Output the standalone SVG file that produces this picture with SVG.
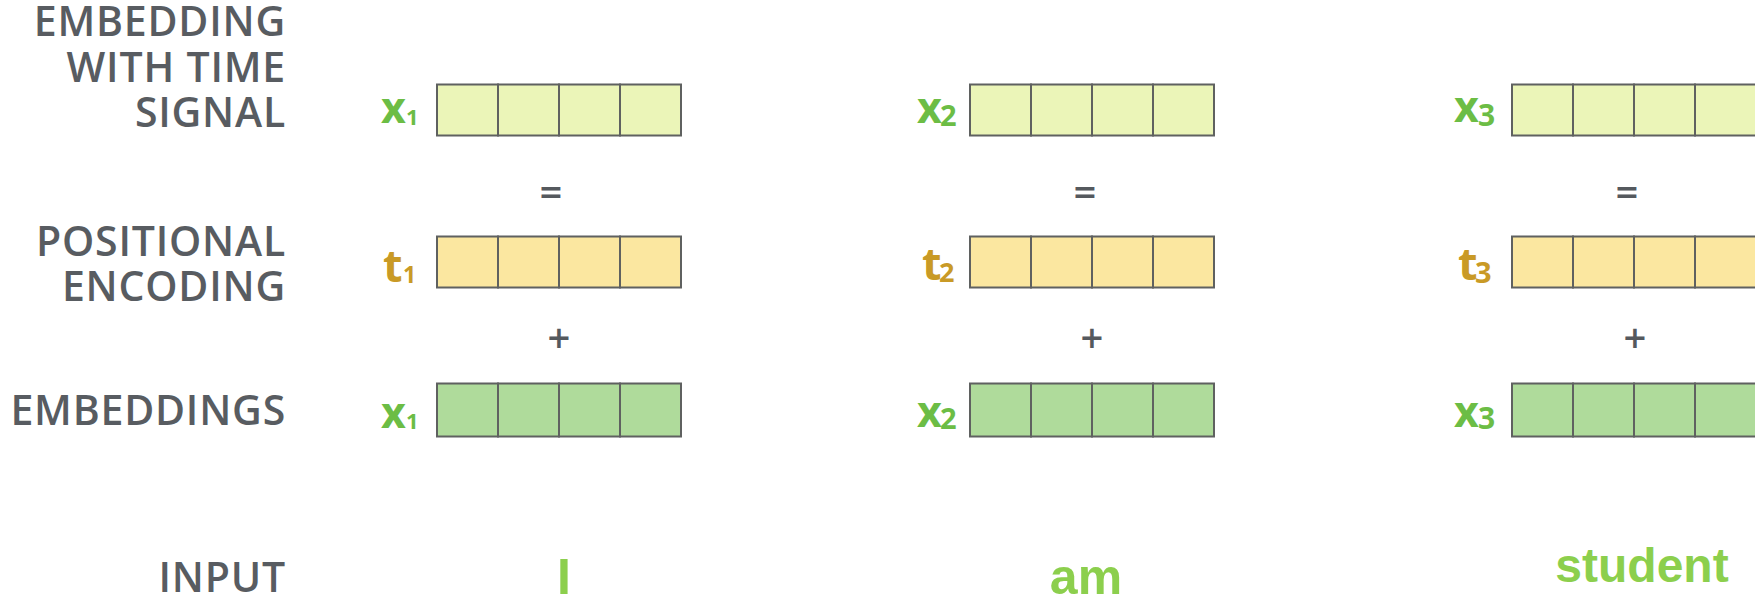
<svg xmlns="http://www.w3.org/2000/svg" width="1755" height="601" viewBox="0 0 1755 601">
<defs>
<style>
.lbl{font-family:"Open Sans","Noto Sans",sans-serif;font-weight:600;font-size:41px;letter-spacing:0.8px;fill:#585c61;text-anchor:end}
.op{font-family:"Open Sans","Noto Sans",sans-serif;font-weight:600;font-size:40px;fill:#55595e;text-anchor:middle}
.xl{font-family:"Open Sans","Noto Sans",sans-serif;font-weight:700;fill:#6cbd45}
.tl{font-family:"Open Sans","Noto Sans",sans-serif;font-weight:700;fill:#c99a26}
.word{font-family:"Liberation Sans",Arial,sans-serif;font-weight:700;fill:#8ccf4d;text-anchor:middle}
.c1{fill:#ebf5b8;stroke:#5f6160;stroke-width:2}
.c2{fill:#fbe7a0;stroke:#5f6160;stroke-width:2}
.c3{fill:#afdb9b;stroke:#5f6160;stroke-width:2}
</style>
<g id="cells1"><rect class="c1" x="0" y="0" width="61" height="51"/><rect class="c1" x="61" y="0" width="61" height="51"/><rect class="c1" x="122" y="0" width="61" height="51"/><rect class="c1" x="183" y="0" width="61" height="51"/></g>
<g id="cells2"><rect class="c2" x="0" y="0" width="61" height="51"/><rect class="c2" x="61" y="0" width="61" height="51"/><rect class="c2" x="122" y="0" width="61" height="51"/><rect class="c2" x="183" y="0" width="61" height="51"/></g>
<g id="cells3"><rect class="c3" x="0" y="0" width="61" height="53"/><rect class="c3" x="61" y="0" width="61" height="53"/><rect class="c3" x="122" y="0" width="61" height="53"/><rect class="c3" x="183" y="0" width="61" height="53"/></g>
</defs>
<rect width="1755" height="601" fill="#ffffff"/>
<g id="row-labels">
<g id="label-time-signal"><text class="lbl" x="286" y="36">EMBEDDING</text><text class="lbl" x="286" y="82">WITH TIME</text><text class="lbl" x="286" y="127">SIGNAL</text></g>
<g id="label-positional"><text class="lbl" x="286" y="256">POSITIONAL</text><text class="lbl" x="286" y="301">ENCODING</text></g>
<g id="label-embeddings"><text class="lbl" x="286" y="425">EMBEDDINGS</text></g>
<g id="label-input"><text class="lbl" x="286" y="592">INPUT</text></g>
</g>
<g id="connectors"></g>
<g id="col1">
<g id="x1-signal"><use href="#cells1" x="437" y="84.5"/><text class="xl" x="381" y="123" font-size="43">x</text><text class="xl" x="406" y="125" font-size="22" font-weight="600">1</text></g>
<text class="op" x="551" y="206">=</text>
<g id="t1"><use href="#cells2" x="437" y="236.5"/><text class="tl" x="383" y="281.5" font-size="45">t</text><text class="tl" x="403" y="282.5" font-size="23" font-weight="600">1</text></g>
<text class="op" x="559" y="352">+</text>
<g id="x1-emb"><use href="#cells3" x="437" y="383.5"/><text class="xl" x="381" y="427.5" font-size="43">x</text><text class="xl" x="406" y="429" font-size="22" font-weight="600">1</text></g>
<g id="word-I"><text class="word" x="564" y="594" font-size="50">I</text></g>
</g>
<g id="col2">
<g id="x2-signal"><use href="#cells1" x="970" y="84.5"/><text class="xl" x="917" y="123" font-size="43">x</text><text class="xl" x="940" y="126" font-size="29" font-weight="600">2</text></g>
<text class="op" x="1085" y="206">=</text>
<g id="t2"><use href="#cells2" x="970" y="236.5"/><text class="tl" x="922" y="280" font-size="45">t</text><text class="tl" x="939" y="282" font-size="27" font-weight="600">2</text></g>
<text class="op" x="1092" y="352">+</text>
<g id="x2-emb"><use href="#cells3" x="970" y="383.5"/><text class="xl" x="917" y="427" font-size="43">x</text><text class="xl" x="940" y="429" font-size="29" font-weight="600">2</text></g>
<g id="word-am"><text class="word" x="1086" y="594" font-size="50">am</text></g>
</g>
<g id="col3">
<g id="x3-signal"><use href="#cells1" x="1512" y="84.5"/><text class="xl" x="1454" y="122" font-size="43">x</text><text class="xl" x="1478" y="126" font-size="30" font-weight="600">3</text></g>
<text class="op" x="1627" y="206">=</text>
<g id="t3"><use href="#cells2" x="1512" y="236.5"/><text class="tl" x="1458" y="280" font-size="45">t</text><text class="tl" x="1475" y="283" font-size="29" font-weight="600">3</text></g>
<text class="op" x="1635" y="352">+</text>
<g id="x3-emb"><use href="#cells3" x="1512" y="383.5"/><text class="xl" x="1454" y="427" font-size="43">x</text><text class="xl" x="1478" y="429" font-size="30" font-weight="600">3</text></g>
<g id="word-student"><text class="word" x="1642" y="582" font-size="48">student</text></g>
</g>
</svg>
